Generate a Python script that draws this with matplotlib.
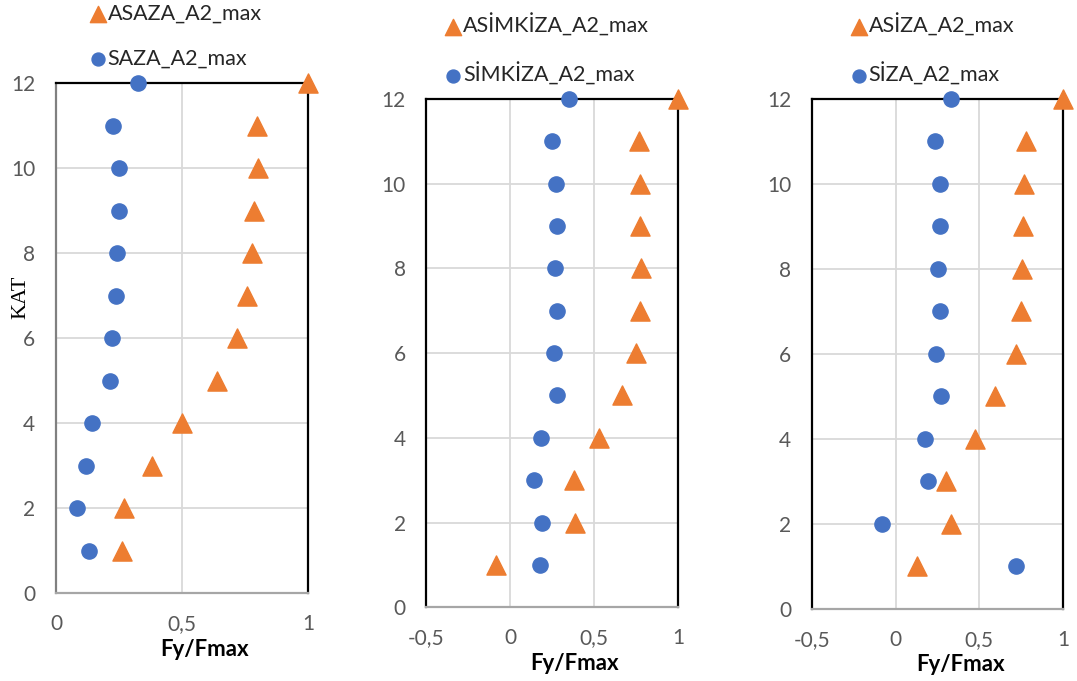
import numpy as np
import matplotlib
matplotlib.use('Agg')
import matplotlib.pyplot as plt

# floor numbers (KAT)
kat = [1, 2, 3, 4, 5, 6, 7, 8, 9, 10, 11, 12]

# panel 1
saza = [0.130, 0.085, 0.119, 0.143, 0.214, 0.221, 0.238, 0.243, 0.250, 0.251, 0.227, 0.327]
asaza = [0.262, 0.269, 0.381, 0.501, 0.639, 0.720, 0.757, 0.776, 0.786, 0.800, 0.796, 1.0]

# panel 2
simkiza = [0.179, 0.191, 0.141, 0.185, 0.275, 0.257, 0.277, 0.266, 0.278, 0.272, 0.245, 0.350]
asimkiza = [-0.085, 0.384, 0.380, 0.527, 0.666, 0.747, 0.775, 0.777, 0.775, 0.775, 0.767, 1.0]

# panel 3
siza = [0.719, -0.084, 0.195, 0.173, 0.273, 0.243, 0.263, 0.253, 0.263, 0.265, 0.233, 0.330]
asiza = [0.129, 0.330, 0.299, 0.476, 0.594, 0.719, 0.751, 0.757, 0.759, 0.769, 0.779, 1.0]

panels = [
    ("SAZA_A2_max", saza, "ASAZA_A2_max", asaza, [0, 0.5, 1], ["0", "0,5", "1"], (0, 1)),
    ("SİMKİZA_A2_max", simkiza, "ASİMKİZA_A2_max", asimkiza,
     [-0.5, 0, 0.5, 1], ["-0,5", "0", "0,5", "1"], (-0.5, 1)),
    ("SİZA_A2_max", siza, "ASİZA_A2_max", asiza,
     [-0.5, 0, 0.5, 1], ["-0,5", "0", "0,5", "1"], (-0.5, 1)),
]
yticks = [0, 2, 4, 6, 8, 10, 12]

blue = '#4472C4'
orange = '#ED7D31'
tick_col = '#595959'
grid_col = '#D9D9D9'

plt.rcParams['font.family'] = ['Lato', 'DejaVu Sans']

fig = plt.figure(figsize=(10.77, 6.81), dpi=100)
positions = [
    [0.052, 0.129, 0.234, 0.749],
    [0.396, 0.108, 0.2337, 0.747],
    [0.754, 0.106, 0.233, 0.749],
]
legend_x = [0.09, 0.03, 0.11]
legend_y = [1.002, 1.0, 1.0]

for i, (cname, cvals, tname, tvals, xt, xtl, xlim) in enumerate(panels):
    ax = fig.add_axes(positions[i])
    c = ax.scatter(cvals, kat, s=120, color=blue, marker='o', zorder=3, clip_on=False, label=cname)
    t = ax.scatter(tvals, kat, s=190, color=orange, marker='^', zorder=3, clip_on=False, label=tname)
    ax.set_xlim(*xlim)
    ax.set_ylim(0, 12)
    ax.set_xticks(xt)
    ax.set_xticklabels(xtl)
    ax.set_yticks(yticks)
    ax.grid(True, color=grid_col, linewidth=1.3)
    ax.set_axisbelow(True)
    ax.tick_params(length=0, labelsize=15, colors=tick_col)
    ax.tick_params(axis='x', pad=15)
    ax.tick_params(axis='y', pad=15)
    for side in ['top', 'right']:
        ax.spines[side].set_color('black')
        ax.spines[side].set_linewidth(1.6)
    ax.spines['left'].set_color('#808080' if i == 0 else 'black')
    ax.spines['left'].set_linewidth(1.6)
    ax.spines['bottom'].set_color('#A6A6A6')
    ax.spines['bottom'].set_linewidth(1.6)
    ax.set_xlabel('Fy/Fmax', fontsize=16, fontweight='bold')
    ax.xaxis.set_label_coords(0.59, -0.089)
    if i == 0:
        ax.set_ylabel('KAT', fontsize=16, family='Liberation Serif')
        ax.yaxis.set_label_coords(-0.10, 0.58)
    ax.legend(handles=[t, c], loc='lower left', bbox_to_anchor=(legend_x[i], legend_y[i]),
              frameon=False, fontsize=15.5, handlelength=0.6, handletextpad=0.15,
              labelspacing=1.2, borderpad=0.1, markerscale=0.85, labelcolor='#262626')

plt.savefig('out.png', dpi=100)
